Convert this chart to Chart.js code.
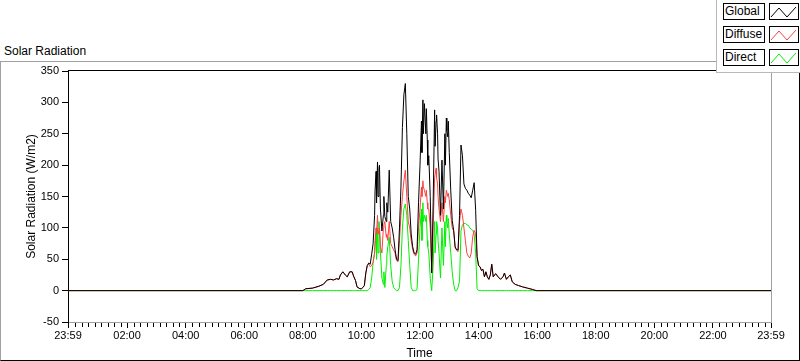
<!DOCTYPE html>
<html lang="en">
<head>
    <meta charset="UTF-8">
    <title>Solar Radiation</title>
    <style>
        html, body {
            margin: 0;
            padding: 0;
            background-color: #fff;
        }
        body {
            position: relative;
            width: 800px;
            height: 361px;
            overflow: hidden;
            font-family: "Liberation Sans", Arial, sans-serif;
            color: #000;
        }
        .moldura {
            position: absolute;
            left: 0;
            top: 61px;
            width: 800px;
            height: 300px;
            box-sizing: border-box;
            border-top: 1px solid #a0a0a0;
            border-left: 1px solid #a0a0a0;
            border-right: 1px solid #000;
            border-bottom: 1px solid #000;
        }
        .titulo {
            position: absolute;
            left: 4px;
            top: 44px;
            font-size: 12px;
            line-height: 14px;
        }
        .grafico {
            position: absolute;
            left: 0;
            top: 0;
            width: 800px;
            height: 361px;
        }
        .legenda {
            position: absolute;
            left: 716px;
            top: 0;
            width: 84px;
            height: 73px;
            box-sizing: border-box;
            background-color: #fff;
            border-left: 1px solid #b9b9b9;
            border-bottom: 1px solid #b9b9b9;
            z-index: 2;
        }
        .linha {
            position: absolute;
            left: 6px;
            width: 76px;
            height: 17px;
        }
        .nome {
            position: absolute;
            left: 0;
            top: 0;
            width: 42px;
            height: 17px;
            box-sizing: border-box;
            border: 1px solid #000;
            font-size: 12px;
            line-height: 15px;
            padding-left: 1px;
        }
        .amostra {
            position: absolute;
            left: 46px;
            top: 0;
            width: 30px;
            height: 17px;
            box-sizing: border-box;
            border: 1px solid #000;
        }
        .amostra svg { display: block; }
    </style>
    <script src="https://cdn.jsdelivr.net/npm/chart.js"></script>
</head>
<body>
    <div class="moldura"></div>
    <div class="titulo">Solar Radiation</div>
    <div class="grafico"><canvas id="grafico"></canvas></div>
    <div class="legenda" id="legenda"></div>

    <script>
        // minutes since midnight (-1 = 23:59 of the previous day)
        const timeMin = [
            -1, 480, 486, 500, 513, 522, 530, 537, 543, 549, 554, 557, 562, 567, 571, 576, 581, 584, 588, 591, 597,
            600, 603, 606, 609, 612, 615, 618, 621, 624, 627,
            628, 630, 631, 633, 634, 636, 637, 639, 642, 645, 646, 648, 651, 652, 654, 657,
            660, 663, 666, 669, 672, 675, 678, 681, 684, 687, 690, 693, 696, 699, 702, 705, 708, 711, 714, 717,
            720, 723, 724, 726, 727, 729, 732, 733, 735, 736, 738, 741, 744, 747, 750,
            751, 753, 754, 756, 757, 759, 762, 765, 768, 771, 772, 774, 775, 777, 778,
            780, 783, 786, 789, 792, 795, 798, 801, 804, 807, 810, 813, 816, 819, 822, 825, 828, 831, 834, 837,
            840, 843, 846, 849, 852, 855, 858, 861, 864, 867, 870,
            875, 880, 885, 890, 893, 897, 901, 905, 909, 915, 922, 930, 940, 950, 958, 1439
        ];
        const globalRad = [
            0, 0, 3, 4, 7, 10, 17, 18, 17, 19, 18, 25, 30, 25, 22, 30, 30, 23, 16, 6, 3,
            3, 5, 8, 28, 40, 44, 42, 58, 75, 120,
            160, 190, 140, 205, 150, 195, 200, 130, 95, 120, 150, 118, 110, 140, 125, 192,
            110, 100, 85, 65, 50, 48, 100, 165, 260, 312, 330, 250, 150, 130, 90, 70, 60, 58, 65, 140,
            200, 270, 220, 304, 250, 298, 250, 290, 240, 200, 215, 150, 28, 140, 288,
            230, 270, 280, 250, 210, 190, 120, 208, 130, 250, 200, 275, 255, 245, 270,
            220, 160, 112, 96, 70, 65, 65, 120, 232, 215, 170, 163, 160, 155, 152, 148, 160, 172, 128, 54,
            40, 38, 32, 34, 22, 30, 22, 18, 25, 42, 22,
            27, 22, 18, 22, 28, 18, 22, 25, 14, 10, 8, 6, 4, 2, 0, 0
        ];
        const diffuseRad = [
            0, 0, 3, 4, 7, 10, 17, 18, 17, 19, 18, 25, 30, 25, 22, 30, 30, 23, 16, 6, 3,
            3, 5, 8, 28, 40, 42, 38, 40, 45, 60,
            80, 100, 90, 120, 95, 90, 100, 70, 60, 100, 105, 110, 85, 90, 80, 110,
            75, 70, 65, 60, 48, 46, 80, 120, 150, 175, 192, 150, 110, 100, 80, 65, 58, 55, 60, 100,
            130, 165, 150, 175, 165, 160, 150, 160, 140, 130, 130, 100, 28, 100, 180,
            185, 195, 180, 170, 150, 130, 110, 140, 110, 150, 140, 160, 160, 150, 155,
            145, 120, 100, 95, 68, 65, 62, 110, 130, 120, 100, 80, 60, 55, 52, 60, 86, 96, 90, 54,
            40, 38, 32, 34, 22, 30, 22, 18, 25, 42, 22,
            27, 22, 18, 22, 28, 18, 22, 25, 14, 10, 8, 6, 4, 2, 0, 0
        ];
        const directRad = [
            0, 0, 0, 0, 0, 0, 0, 0, 0, 0, 0, 0, 0, 0, 0, 0, 0, 0, 0, 0, 0,
            0, 0, 0, 0, 0, 2, 5, 20, 45, 60,
            70, 90, 50, 100, 60, 110, 100, 60, 20, 10, 30, 5, 40, 55, 70, 85,
            40, 15, 5, 2, 0, 0, 5, 40, 100, 130, 138, 120, 80, 40, 5, 0, 0, 0, 2, 50,
            100, 130, 80, 140, 110, 120, 110, 120, 80, 70, 60, 20, 0, 40, 110,
            60, 90, 110, 100, 80, 60, 20, 100, 40, 110, 70, 120, 110, 100, 115,
            90, 60, 30, 10, 0, 0, 5, 15, 95, 105, 107, 107, 105, 104, 100, 98, 96, 90, 60, 3,
            0, 0, 0, 0, 0, 0, 0, 0, 0, 0, 0,
            0, 0, 0, 0, 0, 0, 0, 0, 0, 0, 0, 0, 0, 0, 0, 0
        ];

        const seriesNames = ['Global', 'Diffuse', 'Direct'];
        const seriesColors = ['#000000', '#ff4040', '#00f000'];

        const xTickMinutes = [-1, 120, 240, 360, 480, 600, 720, 840, 960, 1080, 1200, 1320, 1439];
        const xTickLabels = ['23:59', '02:00', '04:00', '06:00', '08:00', '10:00', '12:00',
                             '14:00', '16:00', '18:00', '20:00', '22:00', '23:59'];

        // legend in the top right corner
        const legenda = document.getElementById('legenda');
        seriesNames.forEach((nome, i) => {
            const linha = document.createElement('div');
            linha.className = 'linha';
            linha.style.top = (3 + i * 23) + 'px';
            linha.innerHTML = `<div class="nome">${nome}</div>` +
                `<div class="amostra"><svg width="28" height="15">` +
                `<polyline points="1,13 9,4 17,13 26,3" fill="none" stroke="${seriesColors[i]}" stroke-width="1"/>` +
                `</svg></div>`;
            legenda.appendChild(linha);
        });

        // top/right border of the plot and the small ticks on the time axis
        const molduraPlot = {
            id: 'molduraPlot',
            afterDraw(chart) {
                const { ctx, chartArea: a } = chart;
                const x = chart.scales.x;
                ctx.save();
                ctx.lineWidth = 1;
                ctx.strokeStyle = '#000';
                ctx.beginPath();
                ctx.moveTo(a.left, a.top - 0.5);
                ctx.lineTo(a.right + 1, a.top - 0.5);
                ctx.stroke();
                ctx.strokeStyle = '#a0a0a0';
                ctx.beginPath();
                ctx.moveTo(a.right + 0.5, a.top);
                ctx.lineTo(a.right + 0.5, a.bottom);
                ctx.stroke();
                ctx.strokeStyle = '#000';
                ctx.beginPath();
                for (let h = 0; h < 1440; h += 120) {
                    for (let j = 1; j < 9; j++) {
                        const m = h + j * 120 / 9;
                        if (m >= 1439) break;
                        const px = Math.round(x.getPixelForValue(m)) + 0.5;
                        ctx.moveTo(px, a.bottom + 1);
                        ctx.lineTo(px, a.bottom + 5);
                    }
                }
                ctx.stroke();
                ctx.restore();
            }
        };

        Chart.defaults.font.family = "'Liberation Sans', Arial, sans-serif";
        Chart.defaults.color = '#000';

        const ctx = document.getElementById('grafico').getContext('2d');
        new Chart(ctx, {
            type: 'line',
            data: {
                datasets: seriesNames.map((nome, i) => ({
                    label: nome,
                    data: timeMin.map((t, k) => ({ x: t, y: [globalRad, diffuseRad, directRad][i][k] })),
                    borderColor: seriesColors[i],
                    borderWidth: 1,
                    pointRadius: 0,
                    tension: 0,
                    fill: false
                }))
            },
            options: {
                responsive: true,
                maintainAspectRatio: false,
                animation: false,
                devicePixelRatio: 1,
                layout: { padding: { left: 0, top: 71, right: 29, bottom: 0 } },
                plugins: {
                    legend: { display: false },
                    tooltip: { enabled: false }
                },
                scales: {
                    x: {
                        type: 'linear',
                        min: -1,
                        max: 1439,
                        afterBuildTicks: (scale) => {
                            scale.ticks = xTickMinutes.map(v => ({ value: v }));
                        },
                        afterFit: (scale) => { scale.height = 39; },
                        ticks: {
                            autoSkip: false,
                            maxRotation: 0,
                            padding: 1,
                            font: { size: 11 },
                            callback: (v) => xTickLabels[xTickMinutes.indexOf(v)]
                        },
                        grid: { drawOnChartArea: false, drawTicks: true, tickLength: 6, color: '#000' },
                        border: { display: true, color: '#a0a0a0' },
                        title: { display: true, text: 'Time', font: { size: 12 }, padding: { top: 0, bottom: 0 } }
                    },
                    y: {
                        min: -50,
                        max: 350,
                        afterFit: (scale) => { scale.width = 68; },
                        ticks: { stepSize: 50, padding: 3, font: { size: 11 } },
                        grid: { drawOnChartArea: false, drawTicks: true, tickLength: 6, color: '#000' },
                        border: { display: true, color: '#000' },
                        title: { display: true, text: 'Solar Radiation (W/m2)', font: { size: 12 }, padding: { top: 24, bottom: 0 } }
                    }
                }
            },
            plugins: [molduraPlot]
        });
    </script>
</body>
</html>
